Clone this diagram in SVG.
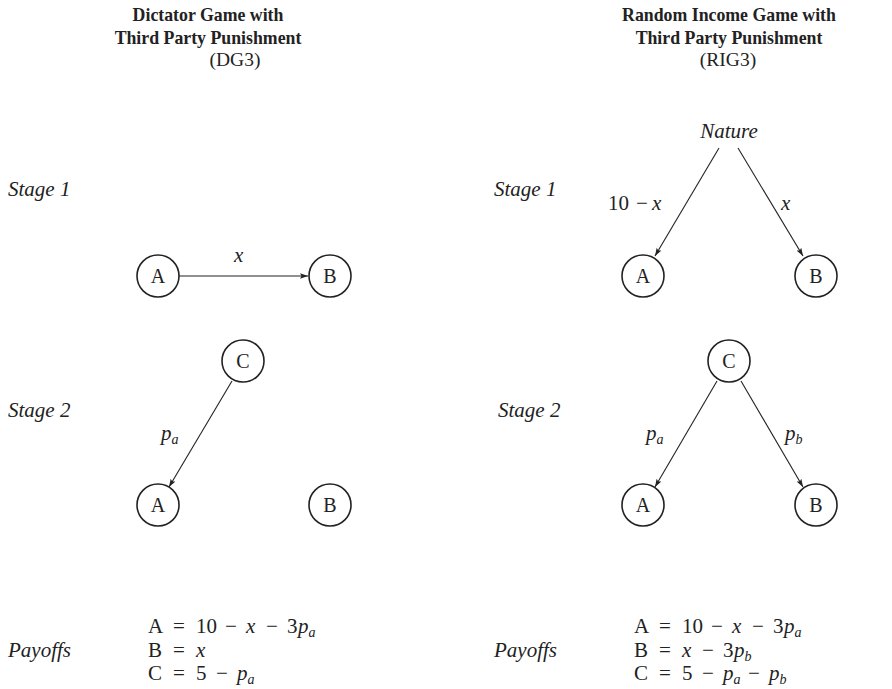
<svg xmlns="http://www.w3.org/2000/svg" width="892" height="689" viewBox="0 0 892 689">
<style>
text{font-family:"Liberation Serif","DejaVu Serif",serif;fill:#222;font-size:21px}
.t{font-weight:bold;text-anchor:middle;font-size:17.8px}
.p{text-anchor:middle;font-size:19.5px}
.c{text-anchor:middle}
.m{text-anchor:middle}
.i{font-style:italic}
.s{font-size:14px;font-style:italic}
.n circle{fill:#fff;stroke:#222;stroke-width:1.6}
.n text{text-anchor:middle;font-size:20px}
.e line{stroke:#222;stroke-width:1.1;marker-end:url(#ah)}
</style>
<defs>
<marker id="ah" viewBox="0 0 10 10" refX="10" refY="5" markerWidth="8" markerHeight="8" markerUnits="userSpaceOnUse" orient="auto">
<path d="M0,1.5 L10,5 L0,8.5 L2,5 Z" fill="#222"/>
</marker>
</defs>
<rect width="892" height="689" fill="#fff"/>
<g id="titles">
<text class="t" x="208" y="21">Dictator Game with</text>
<text class="t" x="208" y="44">Third Party Punishment</text>
<text class="p" x="235" y="66">(DG3)</text>
<text class="t" x="729" y="21">Random Income Game with</text>
<text class="t" x="729" y="44">Third Party Punishment</text>
<text class="p" x="728" y="66">(RIG3)</text>
</g>
<g id="stage-labels">
<text class="i" x="8" y="196">Stage 1</text>
<text class="i" x="8" y="417">Stage 2</text>
<text class="i" x="8" y="657">Payoffs</text>
<text class="i" x="494" y="196">Stage 1</text>
<text class="i" x="498" y="417">Stage 2</text>
<text class="i" x="494" y="657">Payoffs</text>
</g>
<g id="connectors">
<g class="e">
<line x1="179" y1="276" x2="308" y2="276"/>
<line x1="232" y1="381" x2="169" y2="487"/>
<line x1="719" y1="148" x2="655" y2="256"/>
<line x1="738" y1="148" x2="803" y2="256"/>
<line x1="717" y1="381" x2="655" y2="487"/>
<line x1="741" y1="381" x2="803" y2="487"/>
</g>
<text class="i" x="234" y="262">x</text>
<text x="161" y="440"><tspan class="i">p</tspan><tspan class="s" dy="4">a</tspan></text>
<text x="608" y="210">10<tspan class="m" x="642">−</tspan><tspan class="i" x="652">x</tspan></text>
<text class="i" x="781" y="210">x</text>
<text x="646" y="440"><tspan class="i">p</tspan><tspan class="s" dy="4">a</tspan></text>
<text x="785" y="440"><tspan class="i">p</tspan><tspan class="s" dy="4">b</tspan></text>
</g>
<g id="nature"><text class="i c" x="729" y="138">Nature</text></g>
<g id="dg-a1" class="n"><circle cx="158" cy="276" r="21"/><text x="158" y="283">A</text></g>
<g id="dg-b1" class="n"><circle cx="330" cy="276" r="21"/><text x="330" y="283">B</text></g>
<g id="dg-c" class="n"><circle cx="243" cy="361" r="21"/><text x="243" y="368">C</text></g>
<g id="dg-a2" class="n"><circle cx="158" cy="505" r="21"/><text x="158" y="512">A</text></g>
<g id="dg-b2" class="n"><circle cx="330" cy="505" r="21"/><text x="330" y="512">B</text></g>
<g id="rig-a1" class="n"><circle cx="643" cy="276" r="21"/><text x="643" y="283">A</text></g>
<g id="rig-b1" class="n"><circle cx="816" cy="276" r="21"/><text x="816" y="283">B</text></g>
<g id="rig-c" class="n"><circle cx="729" cy="361" r="21"/><text x="729" y="368">C</text></g>
<g id="rig-a2" class="n"><circle cx="643" cy="505" r="21"/><text x="643" y="512">A</text></g>
<g id="rig-b2" class="n"><circle cx="816" cy="505" r="21"/><text x="816" y="512">B</text></g>
<g id="payoffs">
<text x="148" y="633">A<tspan class="m" x="179">=</tspan><tspan x="196">10</tspan><tspan class="m" x="231">−</tspan><tspan class="i" x="246">x</tspan><tspan class="m" x="272">−</tspan><tspan x="287">3</tspan><tspan class="i" x="298">p</tspan><tspan class="s" dy="4">a</tspan></text>
<text x="148" y="657">B<tspan class="m" x="179">=</tspan><tspan class="i" x="196">x</tspan></text>
<text x="148" y="680">C<tspan class="m" x="179">=</tspan><tspan x="196">5</tspan><tspan class="m" x="222">−</tspan><tspan class="i" x="237">p</tspan><tspan class="s" dy="4">a</tspan></text>
<text x="634" y="633">A<tspan class="m" x="665">=</tspan><tspan x="682">10</tspan><tspan class="m" x="717">−</tspan><tspan class="i" x="732">x</tspan><tspan class="m" x="758">−</tspan><tspan x="773">3</tspan><tspan class="i" x="784">p</tspan><tspan class="s" dy="4">a</tspan></text>
<text x="634" y="657">B<tspan class="m" x="665">=</tspan><tspan class="i" x="682">x</tspan><tspan class="m" x="708">−</tspan><tspan x="723">3</tspan><tspan class="i" x="734">p</tspan><tspan class="s" dy="4">b</tspan></text>
<text x="634" y="680">C<tspan class="m" x="665">=</tspan><tspan x="682">5</tspan><tspan class="m" x="708">−</tspan><tspan class="i" x="723">p</tspan><tspan class="s" dy="4">a</tspan><tspan class="m" x="754" dy="-4">−</tspan><tspan class="i" x="769">p</tspan><tspan class="s" dy="4">b</tspan></text>
</g>
</svg>
